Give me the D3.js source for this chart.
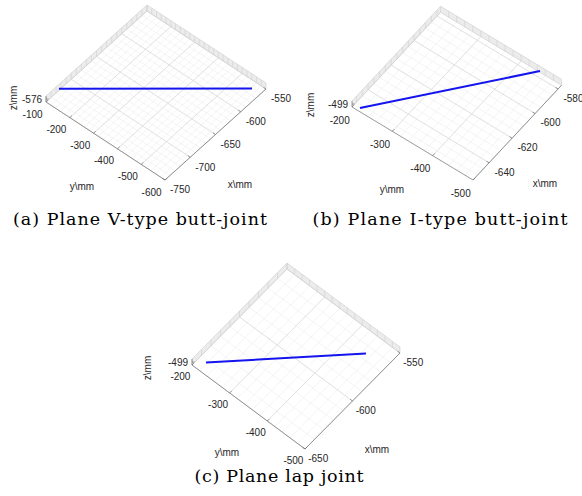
<!DOCTYPE html>
<html>
<head>
<meta charset="utf-8">
<script src="https://cdn.jsdelivr.net/npm/d3@7"></script>
<style>
  body { margin: 0; background: #fff; }
  .tick { font-family: "Liberation Sans", Arial, sans-serif; font-size: 10px; fill: #262626; }
  .cap { font-family: "DejaVu Serif", serif; font-size: 17.5px; fill: #000; }
</style>
</head>
<body>
<div id="chart"></div>
<script>
// captions of the three sub-figures
var captions = ["(a) Plane V-type butt-joint", "(b) Plane I-type butt-joint", "(c) Plane lap joint"];

// axis ranges (mm)
var xDomains = [[-750, -550], [-654, -577], [-650, -550]];
var yDomains = [[-600, -100], [-500, -200], [-500, -200]];
var zDomains = [[-577, -575], [-500, -498], [-500, -498]];

// tick labels
var xTicks = [[-750, -700, -650, -600, -550], [-640, -620, -600, -580], [-650, -600, -550]];
var yTicks = [[-600, -500, -400, -300, -200, -100], [-500, -400, -300, -200], [-500, -400, -300, -200]];
var zTicks = [[-576], [-499], [-499]];

// minor grid steps
var xMinor = [10, 5, 10];
var yMinor = [20, 20, 20];

// welding seam end points
var seamX = [[-726, -565], [-653.6, -577.9], [-644, -567.3]];
var seamY = [[-103.5, -573], [-218.6, -449.2], [-222, -453.3]];
var seamZ = [[-576, -576], [-499, -499], [-499, -499]];

// screen layout of each panel: floor corners and label spots
var layout = [
    {B: [165, 180], R: [266, 89], L: [46, 102], h: 6, off: 18,
     xlab: [240, 184], ylab: [82, 186], zlab: [13, 98], cap: [140, 225], capw: 254},
    {B: [473, 180], R: [561.5, 85.3], L: [352, 107], h: 6, off: 18,
     xlab: [545, 183], ylab: [392, 189], zlab: [310, 105], cap: [440, 225], capw: 255},
    {B: [305, 449], R: [400, 353], L: [192, 365], h: 6, off: 16.5,
     xlab: [377, 449], ylab: [227, 452], zlab: [147, 368], cap: [279, 482], capw: 169}
];

var svg = d3.select("#chart").append("svg").attr("width", 582).attr("height", 496);
svg.append("rect").attr("width", 582).attr("height", 496).attr("fill", "#fff");

for (let i = 0; i < captions.length; i++) {
    panel(i);
}

function unit(a, b, len) {
    var dx = b[0] - a[0], dy = b[1] - a[1];
    var n = Math.sqrt(dx * dx + dy * dy);
    return [dx / n * len, dy / n * len];
}

function panel(i) {
    var lay = layout[i];
    var xd = xDomains[i], yd = yDomains[i], zd = zDomains[i];
    var B = lay.B, R = lay.R, L = lay.L;

    var sx = d3.scaleLinear().domain(xd).range([0, 1]);
    var sy = d3.scaleLinear().domain(yd).range([0, 1]);
    var sz = d3.scaleLinear().domain(zd).range([0, -lay.h]);

    function proj(x, y, z) {
        var a = sx(x), b = sy(y);
        return [B[0] + a * (R[0] - B[0]) + b * (L[0] - B[0]),
                B[1] + a * (R[1] - B[1]) + b * (L[1] - B[1]) + sz(z)];
    }

    var g = svg.append("g");
    var z0 = zd[0], z1 = zd[1];

    function seg(p, q, color, w) {
        g.append("line")
            .attr("x1", p[0]).attr("y1", p[1])
            .attr("x2", q[0]).attr("y2", q[1])
            .attr("stroke", color).attr("stroke-width", w);
    }

    // grid values
    var gx = d3.range(Math.ceil(xd[0] / xMinor[i]) * xMinor[i], xd[1] + 0.001, xMinor[i]);
    var gy = d3.range(Math.ceil(yd[0] / yMinor[i]) * yMinor[i], yd[1] + 0.001, yMinor[i]);

    // back walls
    var wall1 = [proj(xd[0], yd[1], z0), proj(xd[1], yd[1], z0), proj(xd[1], yd[1], z1), proj(xd[0], yd[1], z1)];
    var wall2 = [proj(xd[1], yd[0], z0), proj(xd[1], yd[1], z0), proj(xd[1], yd[1], z1), proj(xd[1], yd[0], z1)];
    [wall1, wall2].forEach(function(w) {
        g.append("path").attr("d", "M" + w.join("L") + "Z").attr("fill", "#ececec").attr("stroke", "none");
    });
    gx.forEach(function(x) { seg(proj(x, yd[1], z0), proj(x, yd[1], z1), "#cfcfcf", 0.6); });
    gy.forEach(function(y) { seg(proj(xd[1], y, z0), proj(xd[1], y, z1), "#cfcfcf", 0.6); });
    seg(wall1[3], wall1[2], "#d6d6d6", 0.8);
    seg(wall2[3], wall2[2], "#d6d6d6", 0.8);

    // floor grid (minor then major)
    gx.forEach(function(x) { seg(proj(x, yd[0], z0), proj(x, yd[1], z0), "#ececec", 0.6); });
    gy.forEach(function(y) { seg(proj(xd[0], y, z0), proj(xd[1], y, z0), "#ececec", 0.6); });
    xTicks[i].forEach(function(x) { seg(proj(x, yd[0], z0), proj(x, yd[1], z0), "#dadada", 0.7); });
    yTicks[i].forEach(function(y) { seg(proj(xd[0], y, z0), proj(xd[1], y, z0), "#dadada", 0.7); });
    seg(proj(xd[0], yd[1], z0), proj(xd[1], yd[1], z0), "#d0d0d0", 0.7);
    seg(proj(xd[1], yd[0], z0), proj(xd[1], yd[1], z0), "#d0d0d0", 0.7);

    // axes
    var axisColor = "#6e6e6e";
    seg(L, B, axisColor, 0.7);
    seg(B, R, axisColor, 0.7);
    var tx = unit(B, R, 3), ty = unit(B, L, 3);
    var offY = unit(R, B, lay.off), offX = unit(L, B, lay.off);

    yTicks[i].forEach(function(y) {
        var p = proj(xd[0], y, z0);
        seg(p, [p[0] + tx[0], p[1] + tx[1]], axisColor, 0.7);
        g.append("text").attr("class", "tick")
            .attr("x", p[0] + offY[0]).attr("y", p[1] + offY[1])
            .attr("text-anchor", "middle").attr("dominant-baseline", "central")
            .text(y);
    });
    xTicks[i].forEach(function(x) {
        var p = proj(x, yd[0], z0);
        seg(p, [p[0] + ty[0], p[1] + ty[1]], axisColor, 0.7);
        g.append("text").attr("class", "tick")
            .attr("x", p[0] + offX[0]).attr("y", p[1] + offX[1])
            .attr("text-anchor", "middle").attr("dominant-baseline", "central")
            .text(x);
    });

    // z axis at the left corner
    seg(proj(xd[0], yd[1], z0), proj(xd[0], yd[1], z1), axisColor, 0.7);
    zTicks[i].forEach(function(z) {
        var p = proj(xd[0], yd[1], z);
        seg(p, [p[0] + 2.5, p[1]], axisColor, 0.7);
        g.append("text").attr("class", "tick")
            .attr("x", p[0] - 4).attr("y", p[1])
            .attr("text-anchor", "end").attr("dominant-baseline", "central")
            .text(z);
    });

    // axis labels
    g.append("text").attr("class", "tick").attr("x", lay.xlab[0]).attr("y", lay.xlab[1])
        .attr("text-anchor", "middle").attr("dominant-baseline", "central").text("x\\mm");
    g.append("text").attr("class", "tick").attr("x", lay.ylab[0]).attr("y", lay.ylab[1])
        .attr("text-anchor", "middle").attr("dominant-baseline", "central").text("y\\mm");
    g.append("text").attr("class", "tick")
        .attr("transform", "translate(" + lay.zlab[0] + "," + lay.zlab[1] + ") rotate(-90)")
        .attr("text-anchor", "middle").attr("dominant-baseline", "central").text("z\\mm");

    // seam line
    var pts = seamX[i].map(function(x, k) { return proj(x, seamY[i][k], seamZ[i][k]); });
    g.append("path").attr("d", d3.line()(pts))
        .attr("fill", "none").attr("stroke", "#1414ee").attr("stroke-width", 2);

    // caption
    svg.append("text").attr("class", "cap")
        .attr("x", lay.cap[0]).attr("y", lay.cap[1])
        .attr("text-anchor", "middle")
        .attr("textLength", lay.capw).attr("lengthAdjust", "spacing")
        .text(captions[i]);
}
</script>
</body>
</html>
